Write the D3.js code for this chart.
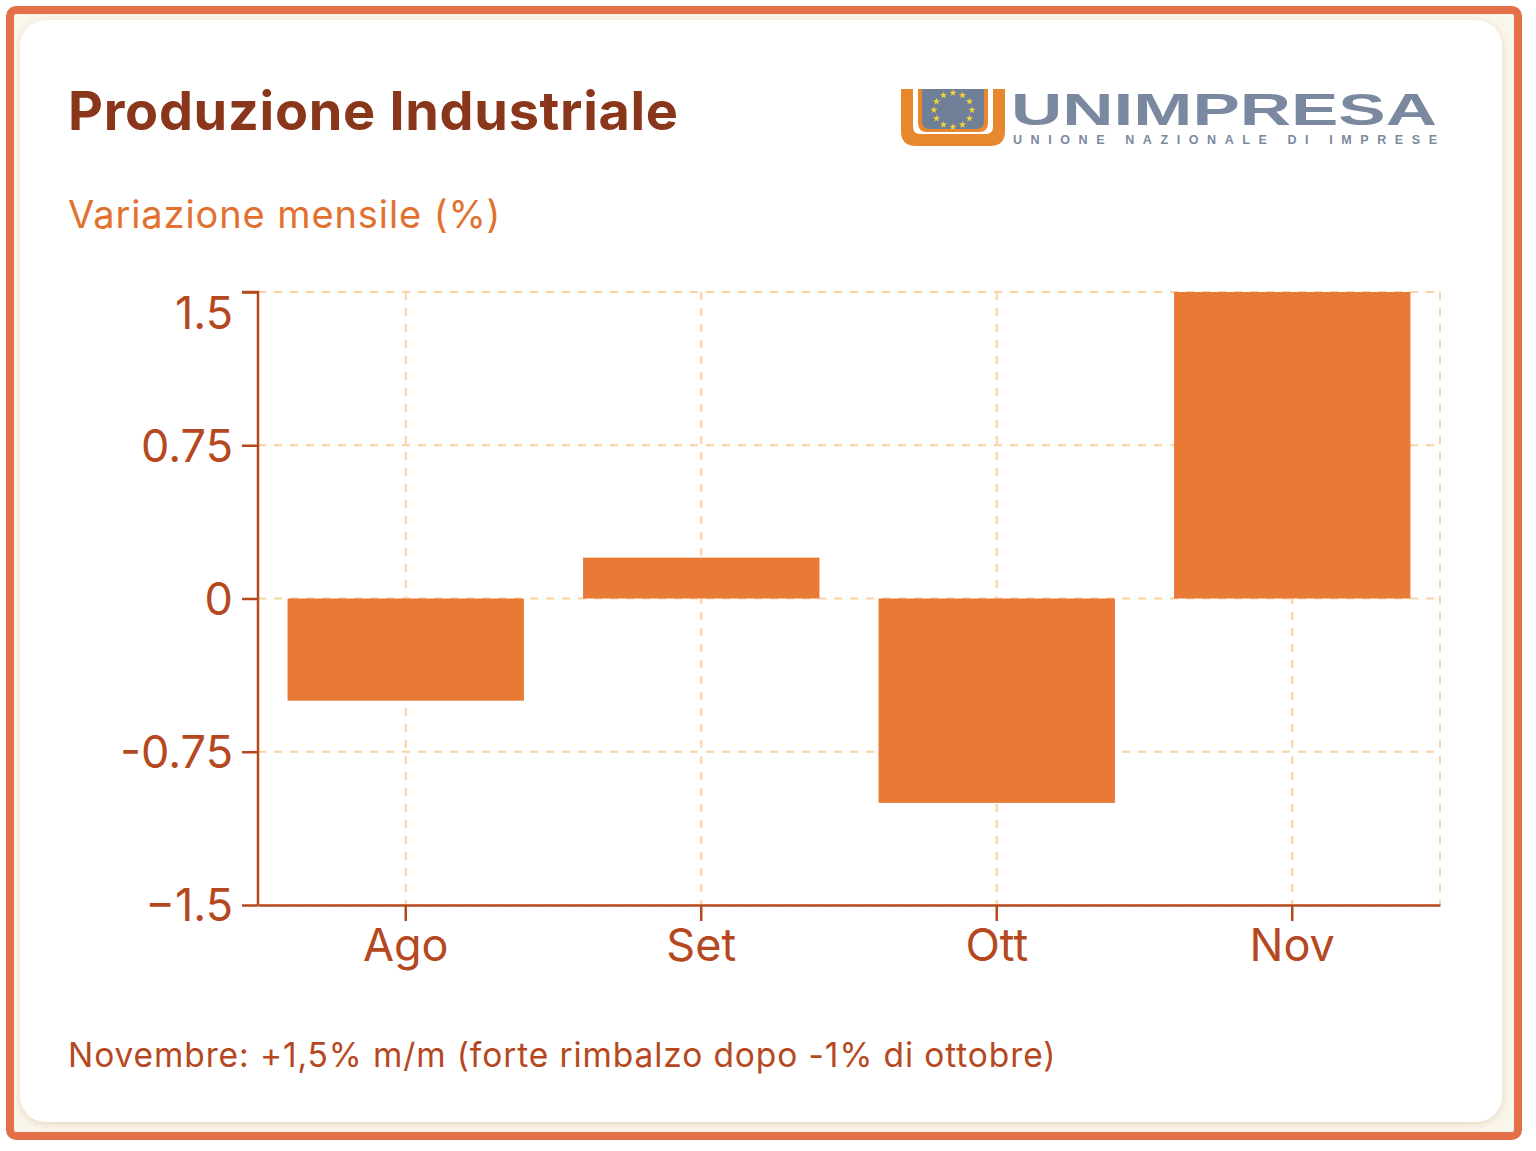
<!DOCTYPE html>
<html>
<head>
<meta charset="utf-8">
<script src="https://cdn.jsdelivr.net/npm/d3@7"></script>
<style>
html,body{margin:0;padding:0;background:#fff;}
svg{display:block;}
</style>
</head>
<body>
<script>
// ---- data ----
const categories = ["Ago", "Set", "Ott", "Nov"];
const values = [-0.5, 0.2, -1.0, 1.5];
const yTicks = [1.5, 0.75, 0, -0.75, -1.5];
const yTickLabels = ["1.5", "0.75", "0", "-0.75", "\u22121.5"];
const title = "Produzione Industriale";
const subtitle = "Variazione mensile (%)";
const footnote = "Novembre: +1,5% m/m (forte rimbalzo dopo -1% di ottobre)";

const W = 1536, H = 1151;
const svg = d3.select("body").append("svg").attr("width", W).attr("height", H);
const defs = svg.append("defs");
const flt = defs.append("filter").attr("id", "sh").attr("x", "-5%").attr("y", "-5%").attr("width", "110%").attr("height", "110%");
flt.append("feDropShadow").attr("dx", 0).attr("dy", 2).attr("stdDeviation", 4).attr("flood-color", "#b89a6a").attr("flood-opacity", 0.35);

// frame
svg.append("rect").attr("x", 10).attr("y", 10).attr("width", 1508).attr("height", 1126)
  .attr("rx", 6).attr("fill", "#FBF6EC").attr("stroke", "#E4704A").attr("stroke-width", 8);
svg.append("rect").attr("x", 20).attr("y", 20).attr("width", 1482).attr("height", 1102)
  .attr("rx", 26).attr("fill", "#ffffff").attr("filter", "url(#sh)");

const FONT = "Inter, 'Open Sans', 'Liberation Sans', sans-serif";

// titles
svg.append("text").attr("x", 68).attr("y", 130).text(title)
  .attr("font-family", FONT).attr("font-weight", 700).attr("font-size", 54).attr("fill", "#8A361B")
  .attr("letter-spacing", 0.7);
svg.append("text").attr("x", 68).attr("y", 228).text(subtitle)
  .attr("font-family", FONT).attr("font-size", 38).attr("fill", "#E2702F")
  .attr("letter-spacing", 0.9);

// logo
const logo = svg.append("g");
logo.append("path").attr("fill", "#E8882E").attr("fill-rule", "evenodd")
  .attr("d", "M901,89 H1005 V131 Q1005,146 990,146 H916 Q901,146 901,131 Z M913,89 V127 Q913,134 920,134 H986 Q993,134 993,127 V89 Z");
logo.append("path").attr("fill", "#E8882E")
  .attr("d", "M918,89 H988 V123 Q988,132 979,132 H927 Q918,132 918,123 Z");
logo.append("path").attr("fill", "#6F7F98")
  .attr("d", "M922,89 H984 V121 Q984,129 976,129 H930 Q922,129 922,121 Z");
const starPath = d3.symbol().type(d3.symbolStar).size(16)();
d3.range(12).forEach(i => {
  const a = i / 12 * 2 * Math.PI;
  logo.append("path").attr("d", starPath).attr("fill", "#F2D33A")
    .attr("transform", `translate(${953 + 19 * Math.sin(a)},${110 - 17 * Math.cos(a)})`);
});
logo.append("text").attr("x", 1011).attr("y", 124.5).text("UNIMPRESA")
  .attr("font-family", "'Liberation Sans', Arial, sans-serif").attr("font-weight", 700).attr("font-size", 45)
  .attr("fill", "#7A89A0").attr("textLength", 426).attr("lengthAdjust", "spacingAndGlyphs");
logo.append("text").attr("x", 1013).attr("y", 144).text("UNIONE NAZIONALE DI IMPRESE")
  .attr("font-family", "'Liberation Sans', Arial, sans-serif").attr("font-weight", 700).attr("font-size", 12.5)
  .attr("fill", "#7A89A0").attr("textLength", 424).attr("lengthAdjust", "spacing");

// chart
const pL = 258, pR = 1440, pT = 292, pB = 905;
const x = d3.scaleBand().domain(categories).range([pL, pR]).paddingInner(0.2).paddingOuter(0.1);
const y = d3.scaleLinear().domain([-1.5, 1.5]).range([pB, pT]);
const axisColor = "#B5481F", gridColor = "#FAD3A3";

const grid = svg.append("g");
grid.selectAll("line.h").data(yTicks).join("line")
  .attr("x1", pL).attr("x2", pR).attr("y1", d => y(d)).attr("y2", d => y(d))
  .attr("stroke", gridColor).attr("stroke-width", 2).attr("stroke-dasharray", "8,8");
grid.selectAll("line.v").data(categories).join("line")
  .attr("x1", d => x(d) + x.bandwidth() / 2).attr("x2", d => x(d) + x.bandwidth() / 2)
  .attr("y1", pT).attr("y2", pB)
  .attr("stroke", gridColor).attr("stroke-width", 2).attr("stroke-dasharray", "8,8");
grid.append("line").attr("x1", pR).attr("x2", pR).attr("y1", pT).attr("y2", pB)
  .attr("stroke", gridColor).attr("stroke-width", 2).attr("stroke-dasharray", "8,8");

svg.append("g").selectAll("rect").data(values).join("rect")
  .attr("x", (d, i) => x(categories[i]))
  .attr("width", x.bandwidth())
  .attr("y", d => y(Math.max(0, d)))
  .attr("height", d => Math.abs(y(d) - y(0)))
  .attr("fill", "#E87A36");

const yAxis = svg.append("g").attr("transform", `translate(${pL},0)`)
  .call(d3.axisLeft(y).tickValues(yTicks).tickFormat((d, i) => yTickLabels[i]).tickSize(16).tickPadding(9));
const xAxis = svg.append("g").attr("transform", `translate(0,${pB})`)
  .call(d3.axisBottom(x).tickSize(16).tickPadding(10).tickSizeOuter(0));
[yAxis, xAxis].forEach(g => {
  g.selectAll("path,line").attr("stroke", axisColor).attr("stroke-width", 2.5);
  g.selectAll("text").attr("fill", axisColor).attr("font-family", FONT).attr("font-size", 45);
});
yAxis.select("path.domain").attr("d", `M-16,${pT}H0V${pB}`);
xAxis.selectAll("text").attr("dy", "0.66em");
yAxis.selectAll("text").attr("dy", (d, i) => i === 0 ? "0.8em" : "0.35em");

svg.append("text").attr("x", 68).attr("y", 1067).text(footnote)
  .attr("font-family", FONT).attr("font-size", 33.5).attr("fill", "#B5481F")
  .attr("letter-spacing", 0.9);
</script>
</body>
</html>
